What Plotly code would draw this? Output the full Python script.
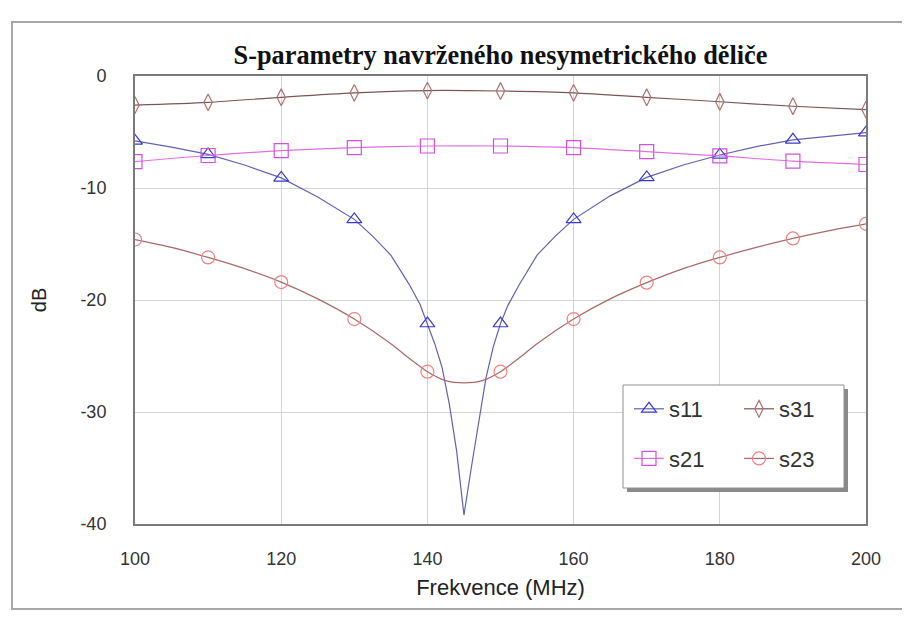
import plotly.graph_objects as go

# ---- data ----
freq_marks = [100, 110, 120, 130, 140, 150, 160, 170, 180, 190, 200]
s11_marks = [-5.8, -7.0, -9.1, -12.8, -22.1, -22.1, -12.8, -9.05, -7.05, -5.7, -5.06]
s21_marks = [-7.65, -7.1, -6.67, -6.4, -6.25, -6.25, -6.4, -6.76, -7.14, -7.6, -7.9]
s31_marks = [-2.6, -2.35, -1.9, -1.5, -1.3, -1.34, -1.5, -1.9, -2.3, -2.7, -3.0]
s23_marks = [-14.6, -16.2, -18.4, -21.7, -26.4, -26.4, -21.7, -18.45, -16.2, -14.5, -13.2]

s11_freq = [100, 105, 110, 115, 120, 125, 130, 132.5, 135, 137.5, 139, 140, 141, 142, 143, 144,
            145, 146, 147, 148, 149, 150, 151, 152.5, 155, 157.5, 160, 165, 170, 175, 180, 185,
            190, 195, 200]
s11_curve = [-5.8, -6.35, -7.0, -7.95, -9.1, -10.8, -12.8, -14.3, -16.0, -18.6, -20.4, -22.1,
             -23.9, -26.0, -29.3, -33.5, -39.2, -35.0, -30.8, -27.0, -24.2, -22.1, -20.5, -18.7,
             -16.0, -14.3, -12.8, -10.7, -9.05, -7.95, -7.05, -6.3, -5.7, -5.35, -5.06]

s23_freq = [100, 105, 110, 115, 120, 125, 130, 135, 137.5, 140, 142.5, 145, 147.5, 150, 152.5,
            155, 160, 165, 170, 175, 180, 185, 190, 195, 200]
s23_curve = [-14.6, -15.3, -16.2, -17.2, -18.4, -19.9, -21.7, -23.9, -25.2, -26.4, -27.2, -27.4,
             -27.2, -26.4, -25.2, -23.9, -21.7, -19.9, -18.45, -17.2, -16.2, -15.3, -14.5, -13.8,
             -13.2]

title_text = "S-parametry navrženého nesymetrického děliče"
x_title = "Frekvence (MHz)"
y_title = "dB"
x_ticks = [100, 120, 140, 160, 180, 200]
y_ticks = [0, -10, -20, -30, -40]

# ---- styling ----
# the page body adds an 8px offset; figure coords = screen coords - 8
OFF = 8
W, H = 910, 619
L, R, T, B = 135 - OFF, W - (866 - OFF), 76 - OFF, H - (524 - OFF)
PW, PH = W - L - R, H - T - B

def px(xs):
    return (xs - OFF - L) / PW

def py(ys):
    return (H - B - (ys - OFF)) / PH

series = [
    # name, lx, ly, shape, mx, my, symbol, size, line color, marker color, legend, rank
    ("s11", s11_freq, s11_curve, "linear", freq_marks, s11_marks, "triangle-up-open", 13,
     "#6262b0", "#3a3ad0", "legend", 1),
    ("s21", freq_marks, s21_marks, "spline", freq_marks, s21_marks, "square-open", 14,
     "#e070e0", "#d050e0", "legend", 2),
    ("s31", freq_marks, s31_marks, "spline", freq_marks, s31_marks, "diamond-tall-open", 12,
     "#7a5656", "#b07070", "legend2", 1),
    ("s23", s23_freq, s23_curve, "spline", freq_marks, s23_marks, "circle-open", 13,
     "#a86a6a", "#f08080", "legend2", 2),
]

fig = go.Figure()
for name, lx, ly, shp, mx, my, sym, sz, lc, mc, leg, rank in series:
    fig.add_trace(go.Scatter(x=lx, y=ly, mode="lines", line=dict(color=lc, width=1.2, shape=shp,
                             smoothing=0.8), showlegend=False, legendgroup=name, hoverinfo="skip"))
    fig.add_trace(go.Scatter(x=mx, y=my, mode="markers", name=name, legendgroup=name,
                             marker=dict(symbol=sym, size=sz, color=mc, line=dict(width=1.2, color=mc)),
                             showlegend=False))
    fig.add_trace(go.Scatter(x=[None], y=[None], mode="lines+markers", name=name,
                             legendgroup=name, legend=leg, legendrank=rank,
                             line=dict(color=lc, width=1.2),
                             marker=dict(symbol=sym, size=sz, color=mc, line=dict(width=1.2, color=mc))))

legend_font = dict(family="Liberation Sans, Arial, sans-serif", size=22, color="#333333")
shapes = [
    # outer frame
    dict(type="rect", xref="paper", yref="paper", x0=px(12), x1=px(904), y0=py(609), y1=py(22),
         line=dict(color="#a8a8a8", width=2), fillcolor="rgba(0,0,0,0)", layer="below"),
    # legend shadow and box
    dict(type="rect", xref="paper", yref="paper", x0=px(627), x1=px(848), y0=py(492), y1=py(389),
         line=dict(width=0), fillcolor="#8a8a8a", layer="above"),
    dict(type="rect", xref="paper", yref="paper", x0=px(623), x1=px(844), y0=py(488), y1=py(385),
         line=dict(color="#909090", width=1), fillcolor="white", layer="above"),
]

fig.update_layout(
    width=W, height=H,
    margin=dict(l=L, r=R, t=T, b=B),
    paper_bgcolor="white", plot_bgcolor="white",
    title=dict(text="<b>" + title_text + "</b>", x=0.5, xref="paper", xanchor="center",
               y=1 - (55 - OFF) / H, yanchor="middle",
               font=dict(family="Liberation Serif, Times New Roman, serif", size=26.3, color="#111111")),
    shapes=shapes,
    legend=dict(x=px(629), y=py(388), xanchor="left", yanchor="top", bgcolor="rgba(0,0,0,0)",
                font=legend_font, traceorder="grouped", tracegroupgap=18, itemwidth=30),
    legend2=dict(x=px(739), y=py(388), xanchor="left", yanchor="top", bgcolor="rgba(0,0,0,0)",
                 font=legend_font, traceorder="grouped", tracegroupgap=18, itemwidth=30),
    showlegend=True,
)

axis_font = dict(family="Liberation Sans, Arial, sans-serif", size=18, color="#333333")
fig.update_xaxes(range=[100, 200], tickvals=x_ticks, ticktext=[str(v) for v in x_ticks],
                 showgrid=True, gridcolor="#d4d4d4", gridwidth=1, zeroline=False,
                 showline=True, mirror=True, linecolor="#7a7a7a", linewidth=2,
                 ticks="", ticklabelstandoff=17, tickfont=axis_font,
                 title=dict(text=x_title, standoff=12,
                            font=dict(family="Liberation Sans, Arial, sans-serif", size=22, color="#222222")))
fig.update_yaxes(range=[-40, 0], tickvals=y_ticks, ticktext=[str(v) for v in y_ticks],
                 showgrid=True, gridcolor="#d4d4d4", gridwidth=1, zeroline=False,
                 showline=True, mirror=True, linecolor="#7a7a7a", linewidth=2,
                 ticks="", ticklabelstandoff=23, tickfont=axis_font,
                 title=dict(text=y_title, standoff=28,
                            font=dict(family="Liberation Sans, Arial, sans-serif", size=20, color="#222222")))

fig.write_html("out.html")
